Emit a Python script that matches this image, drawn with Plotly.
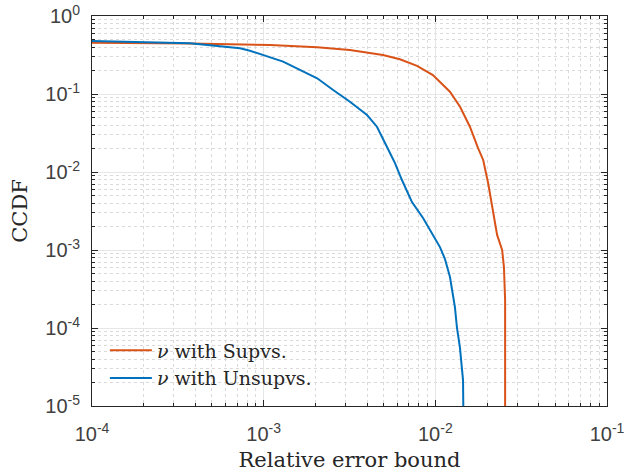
import plotly.graph_objects as go

# Supervised curve (red)
sup_x = [1.0e-4, 3.72e-4, 1.089e-3, 2.05e-3, 3.18e-3, 4.95e-3, 6.22e-3, 7.82e-3,
         9.68e-3, 1.216e-2, 1.393e-2, 1.59e-2, 1.774e-2, 1.90e-2, 2.03e-2,
         2.17e-2, 2.29e-2, 2.45e-2, 2.51e-2, 2.55e-2, 2.55e-2]
sup_y = [0.455, 0.444, 0.425, 0.397, 0.367, 0.316, 0.279, 0.229,
         0.175, 0.107, 0.0687, 0.0381, 0.0203, 0.01426, 0.00723,
         0.00326, 0.00156, 0.001, 6.05e-4, 2.29e-4, 5e-6]

# Unsupervised curve (blue)
uns_x = [1.0e-4, 3.72e-4, 7.28e-4, 8.32e-4, 1.298e-3, 1.63e-3, 2.05e-3, 2.54e-3,
         3.18e-3, 4.0e-3, 4.57e-3, 5.22e-3, 5.82e-3, 6.39e-3, 6.84e-3,
         7.31e-3, 8.48e-3, 9.31e-3, 1.064e-2, 1.138e-2, 1.217e-2, 1.30e-2,
         1.337e-2, 1.39e-2, 1.45e-2, 1.46e-2]
uns_y = [0.478, 0.447, 0.385, 0.359, 0.260, 0.203, 0.159, 0.1125,
         0.0797, 0.0538, 0.0381, 0.0211, 0.0130, 0.00789, 0.00554,
         0.00412, 0.00257, 0.00180, 0.00109, 7.67e-4, 4.51e-4, 1.86e-4,
         1.0e-4, 5.7e-5, 2.15e-5, 5e-6]

x_tickvals = [1e-4, 1e-3, 1e-2, 1e-1]
x_ticktext = ["10<sup>-4</sup>", "10<sup>-3</sup>", "10<sup>-2</sup>", "10<sup>-1</sup>"]
y_tickvals = [1e-5, 1e-4, 1e-3, 1e-2, 1e-1, 1e0]
y_ticktext = ["10<sup>-5</sup>", "10<sup>-4</sup>", "10<sup>-3</sup>",
              "10<sup>-2</sup>", "10<sup>-1</sup>", "10<sup>0</sup>"]

RED = "#D95319"
BLUE = "#0072BD"
AX = "#262626"
SERIF = "DejaVu Serif, Liberation Serif, serif"

fig = go.Figure()
fig.add_trace(go.Scatter(x=sup_x, y=sup_y, mode="lines", name="<i>\u03bd</i> with Supvs.",
                         line=dict(color=RED, width=2)))
fig.add_trace(go.Scatter(x=uns_x, y=uns_y, mode="lines", name="<i>\u03bd</i> with Unsupvs.",
                         line=dict(color=BLUE, width=2)))

axis_common = dict(
    type="log", automargin=False, ticklabeloverflow="allow",
    showline=True, linecolor=AX, linewidth=1, mirror="ticks",
    ticks="inside", ticklen=6, tickcolor=AX,
    showgrid=True, gridcolor="#e6e6e6", gridwidth=1,
    zeroline=False,
    tickfont=dict(family="Liberation Sans, Arial", size=20, color="#404040"),
    minor=dict(dtick="D1", ticks="inside", ticklen=3, tickcolor=AX,
               showgrid=True, gridcolor="#dadada", griddash="dot", gridwidth=1),
)

fig.update_layout(
    width=634, height=472,
    margin=dict(l=92, r=27, t=16, b=66),
    paper_bgcolor="white", plot_bgcolor="white",
    showlegend=True,
    legend=dict(x=0.025, y=0.022, xanchor="left", yanchor="bottom",
                bgcolor="rgba(0,0,0,0)", borderwidth=0, itemwidth=42,
                font=dict(family=SERIF, size=19, color=AX),
                tracegroupgap=0),
    xaxis=dict(**axis_common, range=[-4, -1], tickvals=x_tickvals, ticktext=x_ticktext,
               ticklabelstandoff=10,
               title=dict(text="Relative error bound", standoff=10,
                          font=dict(family=SERIF, size=21, color=AX))),
    yaxis=dict(**axis_common, range=[-5, 0], tickvals=y_tickvals, ticktext=y_ticktext,
               ticklabelstandoff=7,
               title=dict(text="CCDF", standoff=11,
                          font=dict(family=SERIF, size=21, color=AX))),
)

fig.write_html("out.html",
               config={"displayModeBar": False},
               post_script="document.body.style.margin='0px';document.body.style.overflow='hidden';")
